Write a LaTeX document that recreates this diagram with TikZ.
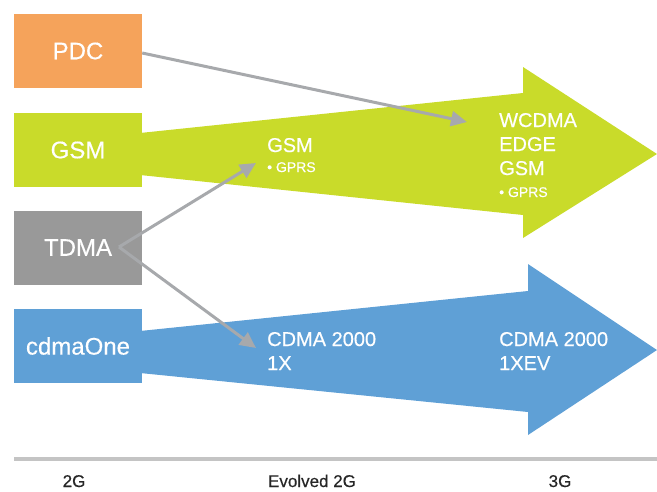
\documentclass[tikz,border=0pt]{standalone}
\usepackage{fontspec}
\setmainfont{Liberation Sans}[FakeBold=0.4]
\usetikzlibrary{arrows.meta}
\definecolor{cpdc}{HTML}{F5A35B}
\definecolor{cgsm}{HTML}{C9DB2A}
\definecolor{ctdma}{HTML}{999999}
\definecolor{ccdma}{HTML}{5FA0D6}
\definecolor{clink}{HTML}{A7A9AC}
\definecolor{caxis}{HTML}{C4C4C4}
\tikzset{
  techbox/.style={minimum width=128pt, minimum height=74pt, inner sep=0pt, text=white, font=\fontsize{24}{26}\selectfont},
  intext/.style={anchor=base west, inner sep=0pt, text=white, font=\fontsize{20}{24}\selectfont},
  subtext/.style={anchor=base west, inner sep=0pt, text=white, font=\fontsize{14}{16}\selectfont},
  eralabel/.style={anchor=base, inner sep=0pt, text=black!85, font=\fontsize{17}{19}\selectfont},
  link/.style={draw=clink, line width=3pt, -{Triangle[length=16pt,width=15pt]}},
}
\begin{document}
\begin{tikzpicture}[x=1pt,y=-1pt]
\useasboundingbox (0,0) rectangle (657,491);
% big arrows
\fill[cgsm] (140,133) -- (523,93) -- (523,67) -- (657,154) -- (523,238) -- (523,215) -- (140,175) -- cycle;
\fill[ccdma] (140,331) -- (528,291) -- (528,264) -- (657,350) -- (528,435) -- (528,412) -- (140,373) -- cycle;
% boxes
\node[techbox, fill=cpdc] (pdc) at (78,51) {PDC};
\node[techbox, fill=cgsm] (gsm) at (78,150) {GSM};
\node[techbox, fill=ctdma] (tdma) at (78,247.5) {TDMA};
\node[techbox, fill=ccdma] (cdma) at (78,346) {cdmaOne};
% texts in arrows
\node[intext] (g1) at (267,152) {GSM};
\node[subtext] (g1b) at (267,172) {\textbullet\ GPRS};
\node[intext] (w1) at (499,127) {WCDMA};
\node[intext] (w2) at (499,151) {EDGE};
\node[intext] (w3) at (499,175) {GSM};
\node[subtext] (w4) at (499,197) {\textbullet\ GPRS};
\node[intext] (c1) at (267,346) {CDMA 2000};
\node[intext] (c2) at (267,370) {1X};
\node[intext] (c3) at (499,346) {CDMA 2000};
\node[intext] (c4) at (499,370) {1XEV};
% links
\coordinate (tsrc) at (119,247);
\coordinate (tgsm) at (256,163);
\coordinate (tcdma) at (256,348);
\coordinate (tw) at (467,122);
\draw[link] (pdc.east |- 0,53) -- (tw);
\draw[link] (tsrc) -- (tgsm);
\draw[link] (tsrc) -- (tcdma);
% axis
\coordinate (axl) at (14,459);
\coordinate (axr) at (657,459);
\draw[caxis, line width=4pt] (axl) -- (axr);
\node[eralabel] (e1) at (74,487) {2G};
\node[eralabel] (e2) at (312,487) {Evolved 2G};
\node[eralabel] (e3) at (560,487) {3G};
\end{tikzpicture}
\end{document}
